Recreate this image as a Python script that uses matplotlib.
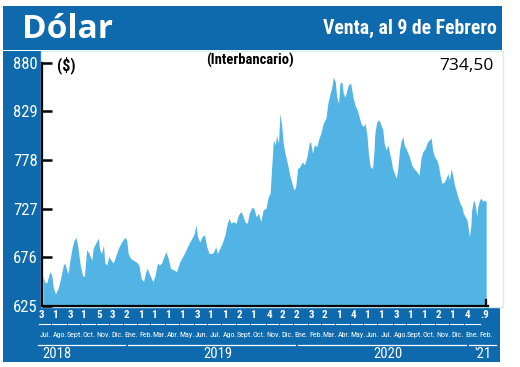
import matplotlib
matplotlib.use('Agg')
import matplotlib.pyplot as plt
import matplotlib.transforms as mtransforms
import matplotlib.dates as mdates
from matplotlib.patches import Rectangle
from matplotlib.lines import Line2D
import pandas as pd

# ---------------- data ----------------
title = 'Dólar'
subtitle = 'Venta, al 9 de Febrero'
source_note = '(Interbancario)'
unit = '($)'
last_value_label = '734,50'

start_date = '2018-07-03'
day_offsets = [0, 4, 8, 15, 19, 22, 27, 33, 38, 44, 47, 51, 54, 58, 63, 67, 71, 75, 80, 85,
               89, 94, 99, 105, 108, 113, 119, 122, 126, 130, 133, 137, 142, 146, 151, 157, 162, 169, 176, 180,
               183, 188, 194, 201, 206, 211, 216, 221, 224, 230, 236, 241,
               246, 250, 255, 260, 264, 269, 274, 280, 287, 294, 302, 309, 314, 320, 325, 329, 332, 337, 342, 347,
               352, 357, 363, 367, 371, 375, 380, 386, 391, 396, 400, 404, 409, 415, 420, 425, 429, 434, 439, 443,
               449, 453, 458, 463, 468, 473,
               479, 484, 488, 491, 495, 499, 502, 506, 509, 513, 516, 520, 525, 531, 536, 539, 543, 547, 552, 557,
               562, 567, 572, 575, 579, 583, 588, 593, 597, 602, 608, 612, 617, 620, 624, 628, 631, 635, 638, 642,
               645, 649, 653, 656, 661, 666, 670, 675, 680, 683, 688, 692, 696, 699, 703, 708, 711,
               713, 717, 722, 726, 730, 733, 737, 741, 744, 748, 751, 755, 759, 762, 766, 769, 773, 776, 780, 784,
               787, 792, 797, 803, 808, 812, 816, 821, 826, 830, 834, 837, 841, 846, 850, 853, 857, 862, 866, 870,
               873, 877, 880, 884, 888, 892, 896, 900, 903, 907, 911, 914, 916, 919, 921, 925, 928, 932, 934, 938,
               941, 945, 948, 952]
values = [656, 650, 649, 661, 657, 645, 637.6, 644, 654, 668, 670, 663, 659, 673, 687, 694, 697, 687, 668, 657,
          656, 684, 680, 673, 685.5, 690.7, 696, 684, 680, 689, 670, 668, 677, 673, 670, 678, 685.5, 692, 697, 694,
          680, 675, 673, 671, 668, 654, 650.5, 661, 664.5, 657, 650.5, 657,
          670, 668, 670, 677, 682, 675, 664.5, 663, 661, 671.5, 678.5, 685.5, 690.7, 696, 701, 710, 697.7, 692,
          697.7, 699.5, 687, 680, 680, 682, 687, 680, 685.5, 692, 699.5, 711.7, 717, 711.7, 713.4, 711.7, 720.4,
          724, 720.4, 713, 711.7, 722, 728.5, 727.4, 718.6, 722, 713.4, 725.6,
          727.4, 739.6, 743, 767.6, 799, 793.8, 804, 795.6, 827, 813, 795.6, 785, 774.6, 760.5, 751.8, 746.6,
          750, 769, 771, 776, 773, 781.5, 795.6, 797, 785, 793.8, 792, 800.8, 806, 816.5, 821.8, 837.5, 848,
          853, 865, 860, 844, 837.5, 858.5, 860, 848, 844, 851.4, 856.7, 858.5, 844, 835.7, 830.5, 821.8, 816.5,
          813, 816.5, 804, 785, 771, 769, 786.8,
          806, 818, 820, 814.7, 809.5, 795.6, 788.5, 793.8, 786.8, 778, 769, 764, 759, 767.6, 788.5, 797, 802.5,
          793.8, 790, 785, 781.5, 773, 769, 766, 762, 780, 786.8, 790, 797, 799, 801, 788.5, 781.5, 778, 771,
          762, 753.6, 755, 759, 764, 757, 769, 762, 751.8, 745, 738, 732.6, 729, 722, 718.6, 715, 704.7, 697.7,
          708, 725.6, 736, 732.6, 718.6, 729, 736, 738, 734.4, 736, 734.5]

y_ticks = [625, 676, 727, 778, 829, 880]
first_month = '2018-07'
month_labels = ['Jul.', 'Ago.', 'Sept.', 'Oct.', 'Nov.', 'Dic.',
                'Ene.', 'Feb.', 'Mar.', 'Abr.', 'May.', 'Jun.', 'Jul.', 'Ago.', 'Sept.', 'Oct.', 'Nov.', 'Dic.',
                'Ene.', 'Feb.', 'Mar.', 'Abr.', 'May.', 'Jun.', 'Jul.', 'Ago.', 'Sept.', 'Oct.', 'Nov.', 'Dic.',
                'Ene.', 'Feb.']
first_days = ['3', '1', '3', '1', '5', '3',
              '2', '1', '1', '1', '1', '3', '1', '1', '2', '1', '4', '2',
              '2', '3', '2', '1', '4', '1', '1', '3', '1', '1', '2', '1',
              '4', '.9']
years = ['2018', '2019', '2020', "'21"]

# ---------------- style ----------------
DARK = '#0e69ad'
FILL = '#52b4e4'
NARROW = ['Liberation Sans Narrow', 'Roboto Condensed', 'Open Sans Condensed', 'DejaVu Sans']
NKW = dict(family=NARROW, stretch='condensed')
W, H = 520, 367


def fx(px):
    return px / W


def fy(py):
    return 1 - py / H


fig = plt.figure(figsize=(W / 100, H / 100), dpi=100)
fig.patch.set_facecolor('white')


def frect(x0, y0, x1, y1, **kw):
    fig.add_artist(Rectangle((fx(x0), fy(y1)), fx(x1) - fx(x0), fy(y0) - fy(y1),
                             transform=fig.transFigure, zorder=-2, **kw))


frect(3, 6, 502, 49.5, facecolor=DARK, lw=0)
frect(3, 51, 40.5, 362, facecolor=DARK, lw=0)
frect(3, 307, 500, 362, facecolor=DARK, lw=0)
frect(40.5, 50.5, 503, 307, facecolor='none', edgecolor='#d4edf8', lw=1)

# ---------------- axes ----------------
ax = fig.add_axes([fx(42), fy(306), fx(488) - fx(42), fy(62.7) - fy(306)])
ax.set_facecolor('none')
dates = pd.Timestamp(start_date) + pd.to_timedelta(day_offsets, unit='D')
ax.fill_between(dates.values, values, y_ticks[0], color=FILL, lw=0)
x_lo = dates[0] - pd.Timedelta(days=2)
x_hi = dates[-1] + pd.Timedelta(days=4)
ax.set_xlim(x_lo, x_hi)
ax.set_ylim(y_ticks[0], y_ticks[-1])
ax.set_yticks(y_ticks)
ax.set_yticklabels([str(v) for v in y_ticks], **NKW)
ax.tick_params(axis='y', direction='in', length=7.5, width=1.8, color='black',
               labelcolor='white', labelsize=12, pad=3)
ax.set_xticks([])
for s in ['top', 'right']:
    ax.spines[s].set_visible(False)
for s in ['left', 'bottom']:
    ax.spines[s].set_color('black')
    ax.spines[s].set_linewidth(1.6)
ax.plot([dates[-1], dates[-1]], [y_ticks[0], y_ticks[0] + 6], color='black', lw=1.6, clip_on=False)

# ---------------- header texts ----------------
fig.text(fx(22), fy(38.5), title, color='white', fontsize=24, fontweight='bold',
         family=['Open Sans', 'DejaVu Sans'], ha='left', va='baseline')
fig.text(fx(497), fy(33.5), subtitle, color='white', fontsize=14.2, fontweight='bold',
         ha='right', va='baseline', **NKW)
fig.text(fx(294), fy(60.5), source_note, color='black', fontsize=10.5, fontweight='bold',
         ha='right', va='center', **NKW)
fig.text(fx(57), fy(65), unit, color='black', fontsize=11.5, fontweight='bold',
         ha='left', va='center', **NKW)
fig.text(fx(494), fy(66.5), last_value_label, color='black', fontsize=12.5,
         family=['Open Sans', 'DejaVu Sans'], ha='right', va='center')

# ---------------- bottom band (date scale) ----------------
trans = mtransforms.blended_transform_factory(ax.transData, fig.transFigure)
days_per_px = (x_hi - x_lo).days / (488 - 42)
months = pd.period_range(first_month, periods=len(month_labels), freq='M')
tick_dates = [pd.Timestamp(year=p.year, month=p.month, day=int(d.lstrip('.')))
              for p, d in zip(months, first_days)]
month_starts = [p.to_timestamp() for p in months]


def shift(ts, px):
    return mdates.date2num(ts + pd.Timedelta(days=px * days_per_px))


for i, (td, d) in enumerate(zip(tick_dates, first_days)):
    fig.text(shift(td, -1.5), fy(314.5), d, transform=trans, color='white', fontsize=8,
             fontweight='bold', ha='center', va='center', **NKW)
    if i < len(tick_dates) - 1:
        fig.add_artist(Line2D([shift(td, -4), shift(tick_dates[i + 1], -6)], [fy(323.5)] * 2,
                              transform=trans, color='white', lw=0.8))

for ms, lab in zip(month_starts, month_labels):
    fig.text(shift(ms, 4), fy(335), lab, transform=trans, color='white', fontsize=5.8,
             ha='center', va='center', **NKW)

year_idx = [0, 6, 18, 30]
for k, yl in enumerate(years):
    a = tick_dates[year_idx[k]]
    if k + 1 < len(year_idx):
        b = tick_dates[year_idx[k + 1]]
        xa, xb = shift(a, -5 if k == 0 else 0), shift(b, -3)
    else:
        xa, xb = shift(a, 0), shift(dates[-1], 10)
    fig.add_artist(Line2D([xa, xb], [fy(344.5)] * 2, transform=trans, color='white', lw=0.9))
    if k == 0:
        fig.text(shift(a, -1), fy(354), yl, transform=trans, color='white', fontsize=10.5,
                 ha='left', va='center', **NKW)
    else:
        fig.text((xa + xb) / 2 + (6 * days_per_px if k < 3 else 0), fy(354), yl, transform=trans,
                 color='white', fontsize=10.5, ha='center', va='center', **NKW)

fig.savefig('out.png', dpi=100, facecolor='white')
